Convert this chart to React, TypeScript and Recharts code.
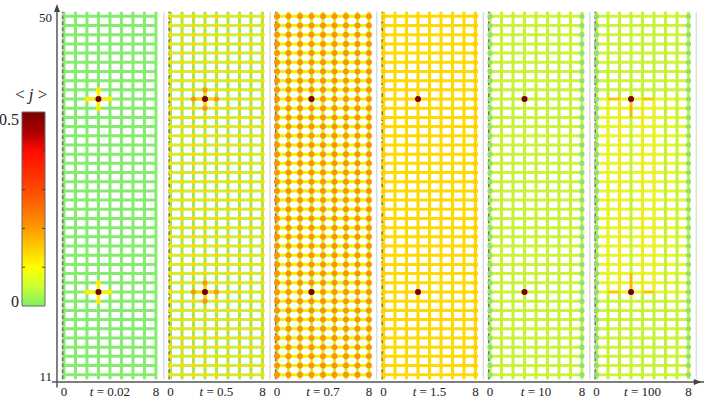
import React from 'react';
import {
  ComposedChart,
  Scatter,
  XAxis,
  YAxis,
  ReferenceLine,
  ReferenceDot,
  BarChart,
  Bar,
} from 'recharts';

const FONT = "'Liberation Serif', 'Times New Roman', serif";

// lattice structure
const ROW_MIN = 11;
const ROW_MAX = 50;
const COL_MIN = 0;
const COL_MAX = 8;
const PANEL_STEP = 9.27;
const X_DOMAIN = [-1.044, 55.7];
const Y_DOMAIN = [10.206, 51.34];
const Y_AXIS_X = -0.61;

// per-panel data
const timeLabels = ['0.02', '0.5', '0.7', '1.5', '10', '100'];
const hBondColors = ['#86ec70', '#c6ee46', '#ecf200', '#ffda00', '#cdf535', '#d2f436'];
const vBondColors = ['#86ec70', '#9ee85a', '#d0ee2c', '#ffda00', '#c6f23a', '#c4f23a'];
const siteColors = [null, '#ffdc00', '#ff9400', null, null, null];
const siteRadius = [2.6, 2.4, 3.0, 2.6, 2.6, 2.6];
const edgeSiteColors = [null, '#ffdc00', '#ff9400', '#ffd000', '#8ee07a', '#8ee07a'];
const neighborSiteColors = ['#ffee00', '#ff9900', null, null, null, null];
const neighborBondColors = ['#ffee00', '#ffd000', null, null, null, null];

// the two sites where current is injected / extracted
const specialSites = [
  { c: 3, r: 41 },
  { c: 3, r: 20 },
];
const specialColor = '#7a0000';

// last panel: yellow band between the two special rows and current paths
const lastPanelYellowRows = [20, 41];
const lastPanelYellow = '#e8f62a';
const lastPanelPaths = [
  { c1: 2, r1: 20, c2: 2, r2: 41, color: '#f6ea1a' },
  { c1: 4, r1: 20, c2: 4, r2: 41, color: '#f6ea1a' },
  { c1: 1, r1: 20, c2: 1, r2: 41, color: '#f2f020' },
  { c1: 5, r1: 20, c2: 5, r2: 41, color: '#f2f020' },
  { c1: 3, r1: 39, c2: 3, r2: 41, color: '#ffb400' },
  { c1: 3, r1: 20, c2: 3, r2: 22, color: '#ffb400' },
  { c1: 1, r1: 41, c2: 2, r2: 41, color: '#ffc400' },
  { c1: 4, r1: 41, c2: 5, r2: 41, color: '#ffc400' },
  { c1: 1, r1: 20, c2: 2, r2: 20, color: '#ffc400' },
  { c1: 4, r1: 20, c2: 5, r2: 20, color: '#ffc400' },
];

// colour bar
const colorbarTicks = [0, 0.5];
const colorbarInnerTicks = [0.1, 0.2, 0.3, 0.4];
const colorbarStops = [
  { offset: '0%', color: '#7a0000' },
  { offset: '10%', color: '#a80000' },
  { offset: '20%', color: '#ff0a00' },
  { offset: '30%', color: '#ff2a00' },
  { offset: '40%', color: '#ff4a00' },
  { offset: '50%', color: '#ff7000' },
  { offset: '60%', color: '#ff9a00' },
  { offset: '70%', color: '#ffcc00' },
  { offset: '80%', color: '#ffff00' },
  { offset: '90%', color: '#ccff33' },
  { offset: '100%', color: '#7cf060' },
];
const colorbarData = [{ name: 'j', v: 0.5 }];

const rows: number[] = [];
for (let r = ROW_MIN; r <= ROW_MAX; r++) rows.push(r);
const cols: number[] = [];
for (let c = COL_MIN; c <= COL_MAX; c++) cols.push(c);

type Bond = { x1: number; y1: number; x2: number; y2: number; color: string; w: number; dash?: string };

function buildBonds(): Bond[] {
  const bonds: Bond[] = [];
  timeLabels.forEach((_, p) => {
    const ox = p * PANEL_STEP;
    const last = p === timeLabels.length - 1;
    rows.forEach((r) => {
      let color = hBondColors[p];
      if (last && r >= lastPanelYellowRows[0] && r <= lastPanelYellowRows[1]) color = lastPanelYellow;
      bonds.push({ x1: ox + COL_MIN, y1: r, x2: ox + COL_MAX, y2: r, color, w: 3 });
    });
    cols.forEach((c) => {
      bonds.push({ x1: ox + c, y1: ROW_MIN - 0.5, x2: ox + c, y2: ROW_MAX + 0.5, color: vBondColors[p], w: 3 });
    });
    const nb = neighborBondColors[p];
    if (nb) {
      specialSites.forEach((s) => {
        bonds.push({ x1: ox + s.c - 1, y1: s.r, x2: ox + s.c + 1, y2: s.r, color: nb, w: 3 });
        bonds.push({ x1: ox + s.c, y1: s.r - 1, x2: ox + s.c, y2: s.r + 1, color: nb, w: 3 });
      });
    }
    if (last) {
      lastPanelPaths.forEach((b) => {
        bonds.push({ x1: ox + b.c1, y1: b.r1, x2: ox + b.c2, y2: b.r2, color: b.color, w: 2.5 });
      });
    }
    // dashed boundary at the left column and light separator at the right
    bonds.push({ x1: ox - 0.12, y1: ROW_MIN - 0.5, x2: ox - 0.12, y2: ROW_MAX + 0.5, color: '#6f6f6f', w: 1.5, dash: '4 2' });
    bonds.push({ x1: ox + COL_MAX + 0.68, y1: ROW_MIN - 0.5, x2: ox + COL_MAX + 0.68, y2: ROW_MAX + 0.5, color: '#dddddd', w: 1.5 });
  });
  return bonds;
}

type Site = { x: number; y: number; fill: string; r: number };

function buildSites(): Site[] {
  const sites: Site[] = [];
  timeLabels.forEach((_, p) => {
    const ox = p * PANEL_STEP;
    cols.forEach((c) => {
      const edge = c === COL_MIN || c === COL_MAX;
      const fill = siteColors[p] || (edge ? edgeSiteColors[p] : null);
      if (!fill) return;
      rows.forEach((r) => {
        sites.push({ x: ox + c, y: r, fill, r: siteRadius[p] });
      });
    });
    const ns = neighborSiteColors[p];
    if (ns) {
      specialSites.forEach((s) => {
        [
          [s.c - 1, s.r],
          [s.c + 1, s.r],
          [s.c, s.r - 1],
          [s.c, s.r + 1],
        ].forEach(([c, r]) => sites.push({ x: ox + c, y: r, fill: ns, r: 2.6 }));
      });
    }
  });
  return sites;
}

function buildSpecial(): Site[] {
  const out: Site[] = [];
  timeLabels.forEach((_, p) => {
    specialSites.forEach((s) => out.push({ x: p * PANEL_STEP + s.c, y: s.r, fill: specialColor, r: 3 }));
  });
  return out;
}

const bonds = buildBonds();
const sites = buildSites();
const specials = buildSpecial();

const xTicks: number[] = [];
const xTickText = new Map<string, string>();
timeLabels.forEach((t, p) => {
  const ox = p * PANEL_STEP;
  [
    [ox, '0'],
    [ox + 4, 't = ' + t],
    [ox + 8, '8'],
  ].forEach(([v, s]) => {
    xTicks.push(v as number);
    xTickText.set((v as number).toFixed(3), s as string);
  });
});

const SiteShape = (props: any) => {
  const pl = props.payload || {};
  if (props.cx == null || props.cy == null) return null;
  return <circle cx={props.cx} cy={props.cy} r={pl.r || 2.6} fill={pl.fill || '#000'} />;
};

const XTick = (props: any) => {
  const { x, y, payload } = props;
  const s = xTickText.get(Number(payload.value).toFixed(3)) || '';
  if (s.startsWith('t')) {
    return (
      <text x={x} y={y} dy="0.71em" textAnchor="middle" fontFamily={FONT} fontSize={13} fill="#222" style={{ whiteSpace: 'pre' }}>
        <tspan fontStyle="italic">t</tspan>
        <tspan>{'\u00a0=\u00a0' + s.slice(4)}</tspan>
      </text>
    );
  }
  return (
    <text x={x} y={y} dy="0.71em" textAnchor="middle" fontFamily={FONT} fontSize={13} fill="#222">
      {s}
    </text>
  );
};

const YTick = (props: any) => {
  const { x, y, payload } = props;
  return (
    <text x={x} y={y + 1.5} textAnchor="end" dominantBaseline="central" fontFamily={FONT} fontSize={13} fill="#222">
      {payload.value}
    </text>
  );
};

const ArrowUp = (props: any) => {
  const { cx, cy } = props;
  if (cx == null) return null;
  return <path d={`M${cx},${cy} L${cx - 3},${cy + 8} L${cx + 3},${cy + 8} Z`} fill="#444" />;
};
const ArrowRight = (props: any) => {
  const { cx, cy } = props;
  if (cx == null) return null;
  return <path d={`M${cx},${cy} L${cx - 8},${cy - 3} L${cx - 8},${cy + 3} Z`} fill="#444" />;
};

const CbTick = (props: any) => {
  const { x, y, payload } = props;
  const v = payload.value;
  return (
    <text x={x} y={y + (v === 0 ? -5 : 7)} textAnchor="end" dominantBaseline="central" fontFamily={FONT} fontSize={16} fill="#222">
      {v === 0 ? '0' : '0.5'}
    </text>
  );
};

export default function App() {
  return (
    <div style={{ position: 'absolute', left: 0, top: 0, width: 706, height: 403, background: '#fff' }}>
      <div style={{ position: 'absolute', left: 0, top: 0 }}>
        <ComposedChart width={706} height={403} margin={{ top: 4, right: 2, bottom: 0, left: 0 }}>
          <XAxis
            dataKey="x"
            type="number"
            domain={X_DOMAIN}
            allowDataOverflow
            ticks={xTicks}
            interval={0}
            height={21}
            tickSize={0}
            tickMargin={5}
            tickLine={false}
            axisLine={{ stroke: '#555', strokeWidth: 1.5 }}
            tick={<XTick />}
          />
          <YAxis
            dataKey="y"
            type="number"
            domain={Y_DOMAIN}
            allowDataOverflow
            ticks={[ROW_MIN, ROW_MAX]}
            interval={0}
            width={52}
            tickSize={0}
            tickMargin={0}
            tickLine={false}
            axisLine={false}
            tick={<YTick />}
          />
          {bonds.map((b, i) => (
            <ReferenceLine
              key={'b' + i}
              segment={[
                { x: b.x1, y: b.y1 },
                { x: b.x2, y: b.y2 },
              ]}
              stroke={b.color}
              strokeWidth={b.w}
              strokeDasharray={b.dash}
              ifOverflow="visible"
            />
          ))}
          <ReferenceLine
            segment={[
              { x: Y_AXIS_X, y: 9.6 },
              { x: Y_AXIS_X, y: Y_DOMAIN[1] - 0.5 },
            ]}
            stroke="#555"
            strokeWidth={1.5}
            ifOverflow="visible"
          />
          <ReferenceDot x={Y_AXIS_X} y={Y_DOMAIN[1]} r={3} shape={<ArrowUp />} ifOverflow="visible" />
          <ReferenceDot x={X_DOMAIN[1] - 0.2} y={Y_DOMAIN[0]} r={3} shape={<ArrowRight />} ifOverflow="visible" />
          <Scatter data={sites} dataKey="y" shape={<SiteShape />} isAnimationActive={false} />
          <Scatter data={specials} dataKey="y" shape={<SiteShape />} isAnimationActive={false} />
        </ComposedChart>
      </div>
      <div style={{ position: 'absolute', left: 0, top: 0 }}>
        <BarChart
          width={50}
          height={320}
          data={colorbarData}
          margin={{ top: 112, right: 5, bottom: 14, left: 0 }}
          barCategoryGap={0}
        >
          <defs>
            <linearGradient id="cbGrad" x1="0" y1="0" x2="0" y2="1">
              {colorbarStops.map((s) => (
                <stop key={s.offset} offset={s.offset} stopColor={s.color} />
              ))}
            </linearGradient>
          </defs>
          <XAxis dataKey="name" hide />
          <YAxis
            type="number"
            domain={[0, 0.5]}
            ticks={colorbarTicks}
            interval={0}
            width={22}
            tickSize={0}
            tickMargin={3}
            tickLine={false}
            axisLine={false}
            tick={<CbTick />}
          />
          <Bar dataKey="v" fill="url(#cbGrad)" stroke="#666" strokeWidth={1} isAnimationActive={false} />
          {colorbarInnerTicks.map((t) => (
            <ReferenceLine key={t} y={t} stroke="#444" strokeWidth={1} strokeDasharray="3 17" />
          ))}
        </BarChart>
      </div>
      <div
        style={{
          position: 'absolute',
          left: 15,
          top: 86,
          fontFamily: FONT,
          fontSize: 17,
          color: '#222',
          lineHeight: '17px',
          whiteSpace: 'pre',
        }}
      >
        {'< '}
        <i>j</i>
        {' >'}
      </div>
    </div>
  );
}
